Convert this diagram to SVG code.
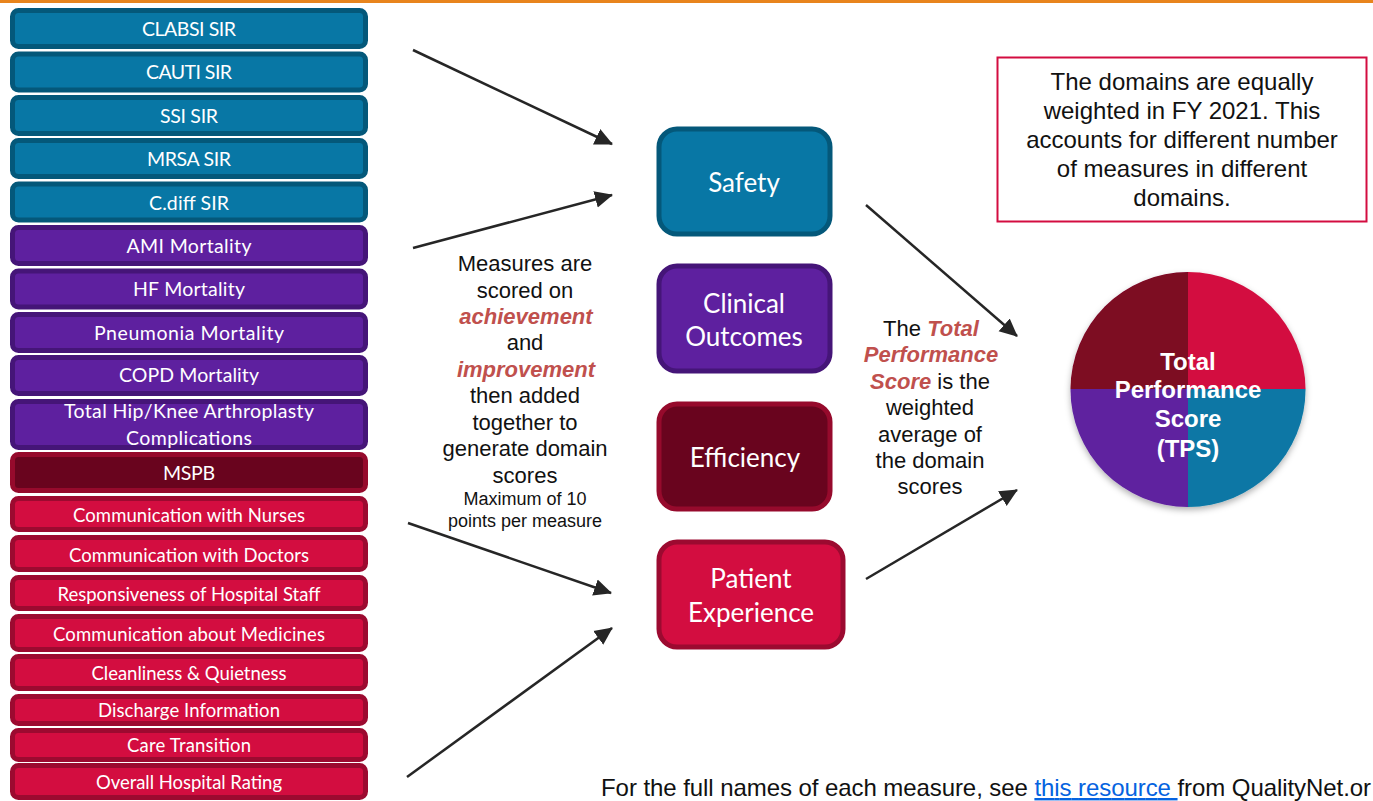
<svg xmlns="http://www.w3.org/2000/svg" width="1373" height="801" viewBox="0 0 1373 801">
<style>
text{font-family:"Liberation Sans",Arial,sans-serif;text-anchor:middle}
.m text,.d text{font-family:Lato,"Open Sans",sans-serif;fill:#fff}
.m text{font-size:19.5px}
.m .s{font-size:18.5px}
.d text{font-size:26px}
.m rect,.d rect{stroke-width:5}
.b rect{fill:#0877a5;stroke:#04587a}
.p rect{fill:#5e209f;stroke:#451578}
.e rect{fill:#69041e;stroke:#960a2c}
.r rect{fill:#d30d40;stroke:#9c0a30}
.c line{stroke:#262626;stroke-width:2.5;marker-end:url(#a)}
.t{font-size:22px;fill:#111}
.n{font-size:24px;fill:#111}
.h{font-weight:bold;font-style:italic;fill:#c0504d}
</style>
<defs>
<marker id="a" markerUnits="userSpaceOnUse" markerWidth="18" markerHeight="18" refX="17" refY="9" orient="auto"><path d="M0 0.500L18 9L0 17.500Z" fill="#262626"/></marker>
<filter id="sh" x="-10%" y="-10%" width="120%" height="125%"><feDropShadow dx="0" dy="3" stdDeviation="3" flood-color="#000" flood-opacity=".3"/></filter>
</defs>
<rect id="top-bar" x="0" y="0" width="1373" height="3" fill="#e8841c"/>
<g class="m b" id="m1"><rect x="12.500" y="10.500" width="353" height="36" rx="6"/><text x="189" y="36" textLength="94">CLABSI SIR</text></g>
<g class="m b" id="m2"><rect x="12.500" y="54" width="353" height="36" rx="6"/><text x="189" y="79" textLength="86">CAUTI SIR</text></g>
<g class="m b" id="m3"><rect x="12.500" y="97.500" width="353" height="36" rx="6"/><text x="189" y="123" textLength="58">SSI SIR</text></g>
<g class="m b" id="m4"><rect x="12.500" y="140.500" width="353" height="36" rx="6"/><text x="189" y="166" textLength="84">MRSA SIR</text></g>
<g class="m b" id="m5"><rect x="12.500" y="184" width="353" height="36" rx="6"/><text x="189" y="210" textLength="80">C.diff SIR</text></g>
<g class="m p" id="m6"><rect x="12.500" y="227.500" width="353" height="36" rx="6"/><text x="189" y="253" textLength="125">AMI Mortality</text></g>
<g class="m p" id="m7"><rect x="12.500" y="271" width="353" height="36" rx="6"/><text x="189" y="296" textLength="112">HF Mortality</text></g>
<g class="m p" id="m8"><rect x="12.500" y="314.500" width="353" height="36" rx="6"/><text x="189" y="340" textLength="190">Pneumonia Mortality</text></g>
<g class="m p" id="m9"><rect x="12.500" y="357.500" width="353" height="36" rx="6"/><text x="189" y="382" textLength="140">COPD Mortality</text></g>
<g class="m p" id="m10"><rect x="12.500" y="401.500" width="353" height="46" rx="6"/><text x="189" y="418" textLength="250">Total Hip/Knee Arthroplasty</text><text x="189" y="445" textLength="126">Complications</text></g>
<g class="m e" id="m11"><rect x="12.500" y="454.500" width="353" height="36" rx="6"/><text x="189" y="480" textLength="52">MSPB</text></g>
<g class="m r" id="m12"><rect x="12.500" y="498.500" width="353" height="31" rx="6"/><text class="s" x="189" y="521.500" textLength="232">Communication with Nurses</text></g>
<g class="m r" id="m13"><rect x="12.500" y="537.500" width="353" height="32" rx="6"/><text class="s" x="189" y="561.500" textLength="240">Communication with Doctors</text></g>
<g class="m r" id="m14"><rect x="12.500" y="577.500" width="353" height="31" rx="6"/><text class="s" x="189" y="600.500" textLength="263">Responsiveness of Hospital Staff</text></g>
<g class="m r" id="m15"><rect x="12.500" y="616.500" width="353" height="33" rx="6"/><text class="s" x="189" y="640.500" textLength="272">Communication about Medicines</text></g>
<g class="m r" id="m16"><rect x="12.500" y="656.500" width="353" height="32" rx="6"/><text class="s" x="189" y="679.500" textLength="195">Cleanliness &amp; Quietness</text></g>
<g class="m r" id="m17"><rect x="12.500" y="696.500" width="353" height="27" rx="6"/><text class="s" x="189" y="716.500" textLength="182">Discharge Information</text></g>
<g class="m r" id="m18"><rect x="12.500" y="730.500" width="353" height="29" rx="6"/><text class="s" x="189" y="751.500" textLength="124">Care Transition</text></g>
<g class="m r" id="m19"><rect x="12.500" y="765.500" width="353" height="32" rx="6"/><text class="s" x="189" y="788.500" textLength="186">Overall Hospital Rating</text></g>
<g class="d b" id="safety"><rect x="659" y="129" width="171" height="105" rx="18"/><text x="744" y="192">Safety</text></g>
<g class="d p" id="clinical"><rect x="659" y="266" width="171" height="105" rx="18"/><text x="744" y="313">Clinical</text><text x="744" y="346">Outcomes</text></g>
<g class="d e" id="efficiency"><rect x="659" y="404" width="171" height="105" rx="18"/><text x="745" y="467">Efficiency</text></g>
<g class="d r" id="patient"><rect x="659" y="542" width="184" height="105" rx="18"/><text x="751" y="588">Patient</text><text x="751" y="622">Experience</text></g>
<g class="c" id="connectors">
<line x1="413" y1="50" x2="612" y2="144"/>
<line x1="413" y1="248" x2="612" y2="195"/>
<line x1="408" y1="523" x2="611" y2="593"/>
<line x1="407" y1="777" x2="612" y2="628"/>
<line x1="866" y1="205" x2="1017" y2="336"/>
<line x1="866" y1="579" x2="1017" y2="490"/>
</g>
<g id="note-measures">
<text class="t" x="525" y="271">Measures are</text>
<text class="t" x="525" y="298">scored on</text>
<text class="t h" x="526" y="324" style="fill:#c0504d">achievement</text>
<text class="t" x="525" y="350">and</text>
<text class="t h" x="526" y="377" style="fill:#c0504d">improvement</text>
<text class="t" x="525" y="403">then added</text>
<text class="t" x="525" y="430">together to</text>
<text class="t" x="525" y="456">generate domain</text>
<text class="t" x="525" y="483">scores</text>
<text x="525" y="505" font-size="18" fill="#111">Maximum of 10</text>
<text x="525" y="527" font-size="18" fill="#111">points per measure</text>
</g>
<g id="note-tps">
<text class="t" x="931" y="336">The <tspan class="h" style="fill:#c0504d">Total</tspan></text>
<text class="t h" x="931" y="362" style="fill:#c0504d">Performance</text>
<text class="t" x="930" y="389"><tspan class="h" style="fill:#c0504d">Score</tspan> is the</text>
<text class="t" x="930" y="415">weighted</text>
<text class="t" x="930" y="442">average of</text>
<text class="t" x="930" y="468">the domain</text>
<text class="t" x="930" y="494">scores</text>
</g>
<g id="note-weights">
<rect x="997.500" y="57.500" width="369" height="164" fill="#fff" stroke="#d30d40" stroke-width="2"/>
<text class="n" x="1182" y="90">The domains are equally</text>
<text class="n" x="1182" y="119">weighted in FY 2021. This</text>
<text class="n" x="1182" y="148">accounts for different number</text>
<text class="n" x="1182" y="177">of measures in different</text>
<text class="n" x="1182" y="206">domains.</text>
</g>
<g id="tps">
<g filter="url(#sh)">
<path d="M1188 389V272A117.500 117.500 0 0 1 1305.500 389Z" fill="#d30d40"/>
<path d="M1188 389H1305.500A117.500 117.500 0 0 1 1188 507Z" fill="#0877a5"/>
<path d="M1188 389V507A117.500 117.500 0 0 1 1070.500 389Z" fill="#5e209f"/>
<path d="M1188 389H1070.500A117.500 117.500 0 0 1 1188 272Z" fill="#7d0724"/>
</g>
<g fill="#fff" font-weight="bold" font-size="24">
<text x="1188" y="370" fill="#fff">Total</text>
<text x="1188" y="398" fill="#fff">Performance</text>
<text x="1188" y="427" fill="#fff">Score</text>
<text x="1188" y="457" fill="#fff">(TPS)</text>
</g>
</g>
<text id="footer" x="601" y="796" font-size="24" fill="#111" style="text-anchor:start" textLength="770">For the full names of each measure, see <tspan fill="#0563e0" text-decoration="underline">this resource </tspan>from QualityNet.or</text>
</svg>
